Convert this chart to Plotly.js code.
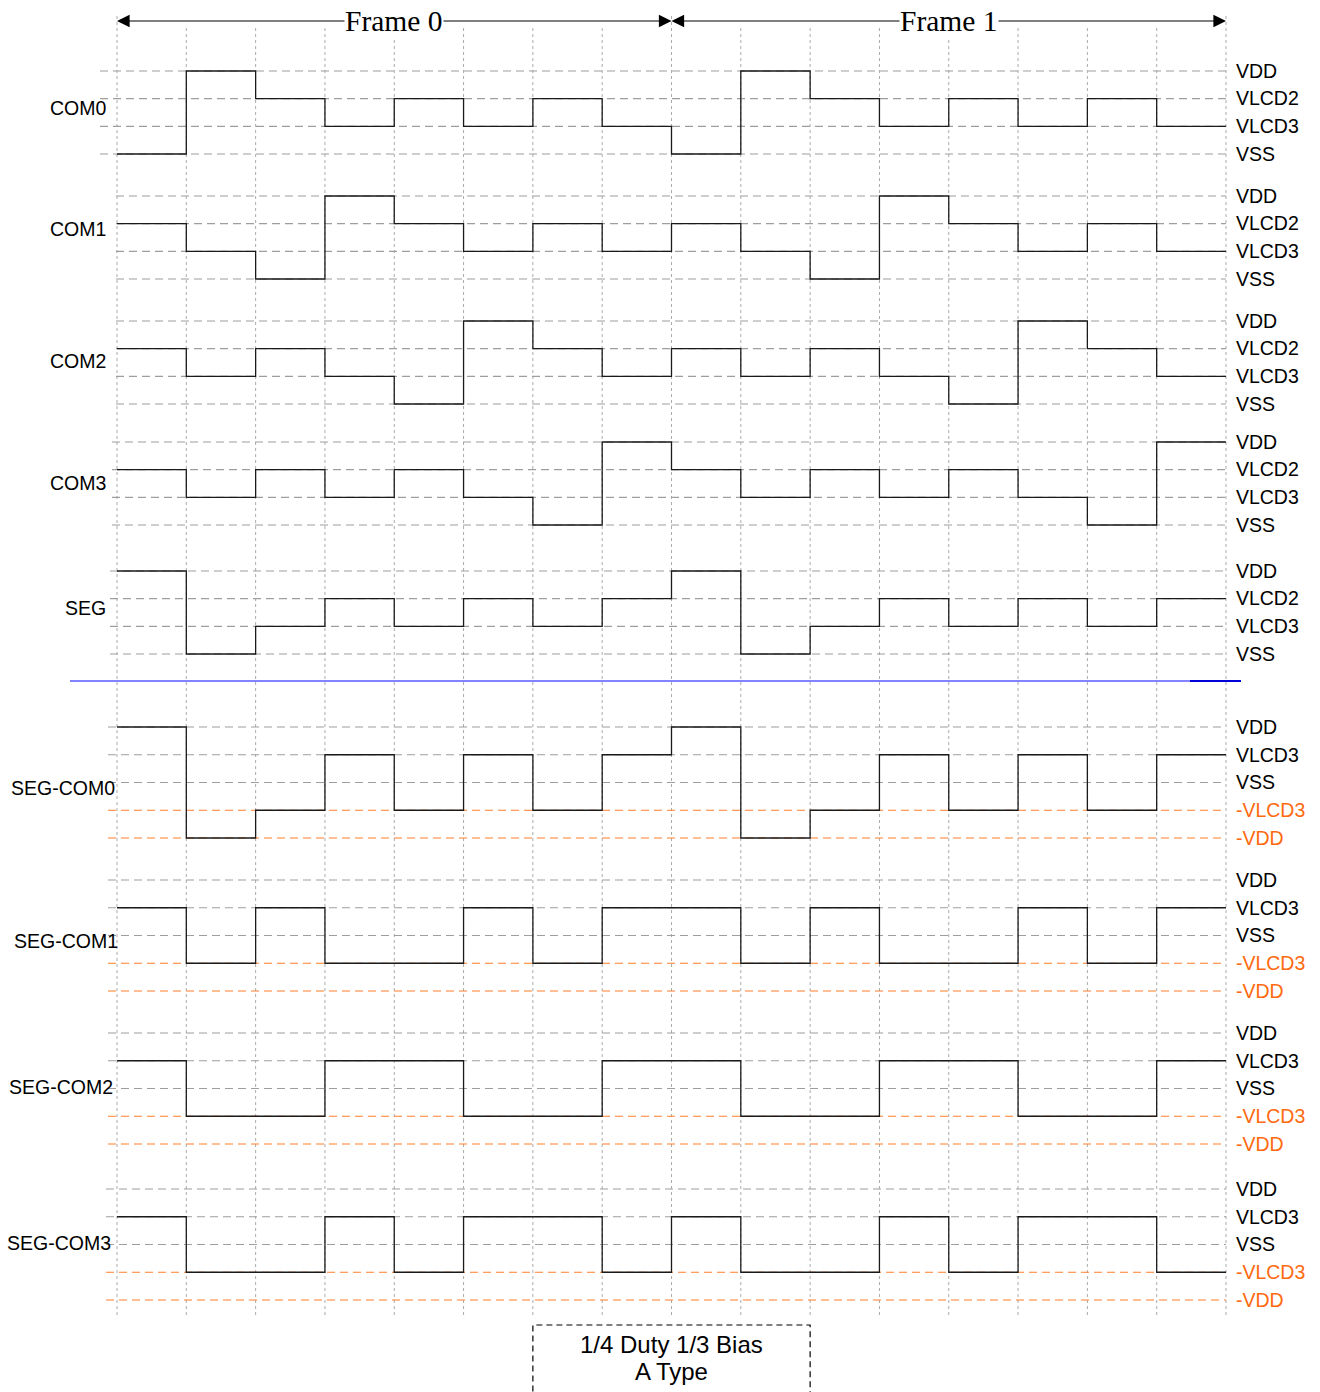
<!DOCTYPE html>
<html>
<head>
<meta charset="utf-8">
<script src="https://cdn.plot.ly/plotly-3.0.1.min.js"></script>
<style>
  html, body { margin: 0; padding: 0; background: #ffffff; }
  #chart { width: 1320px; height: 1392px; }
</style>
</head>
<body>
<div id="chart"></div>
<script>
// ---------------- DATA ----------------
// time-slot boundaries (16 COM slots, two frames of 8)
const timeSlots = [0, 1, 2, 3, 4, 5, 6, 7, 8, 9, 10, 11, 12, 13, 14, 15, 16];
const frameNames = ['Frame 0', 'Frame 1'];
const frameBounds = [[0, 8], [8, 16]];

// voltage level names (bottom -> top)
const comLevels = ['VSS', 'VLCD3', 'VLCD2', 'VDD'];
const diffLevels = ['-VDD', '-VLCD3', 'VSS', 'VLCD3', 'VDD'];

const rowNames = ['COM0', 'COM1', 'COM2', 'COM3', 'SEG', 'SEG-COM0', 'SEG-COM1', 'SEG-COM2', 'SEG-COM3'];

const com0 = ['VSS','VDD','VLCD2','VLCD3','VLCD2','VLCD3','VLCD2','VLCD3','VSS','VDD','VLCD2','VLCD3','VLCD2','VLCD3','VLCD2','VLCD3'];
const com1 = ['VLCD2','VLCD3','VSS','VDD','VLCD2','VLCD3','VLCD2','VLCD3','VLCD2','VLCD3','VSS','VDD','VLCD2','VLCD3','VLCD2','VLCD3'];
const com2 = ['VLCD2','VLCD3','VLCD2','VLCD3','VSS','VDD','VLCD2','VLCD3','VLCD2','VLCD3','VLCD2','VLCD3','VSS','VDD','VLCD2','VLCD3'];
const com3 = ['VLCD2','VLCD3','VLCD2','VLCD3','VLCD2','VLCD3','VSS','VDD','VLCD2','VLCD3','VLCD2','VLCD3','VLCD2','VLCD3','VSS','VDD'];
const seg  = ['VDD','VSS','VLCD3','VLCD2','VLCD3','VLCD2','VLCD3','VLCD2','VDD','VSS','VLCD3','VLCD2','VLCD3','VLCD2','VLCD3','VLCD2'];
const segCom0 = ['VDD','-VDD','-VLCD3','VLCD3','-VLCD3','VLCD3','-VLCD3','VLCD3','VDD','-VDD','-VLCD3','VLCD3','-VLCD3','VLCD3','-VLCD3','VLCD3'];
const segCom1 = ['VLCD3','-VLCD3','VLCD3','-VLCD3','-VLCD3','VLCD3','-VLCD3','VLCD3','VLCD3','-VLCD3','VLCD3','-VLCD3','-VLCD3','VLCD3','-VLCD3','VLCD3'];
const segCom2 = ['VLCD3','-VLCD3','-VLCD3','VLCD3','VLCD3','-VLCD3','-VLCD3','VLCD3','VLCD3','-VLCD3','-VLCD3','VLCD3','VLCD3','-VLCD3','-VLCD3','VLCD3'];
const segCom3 = ['VLCD3','-VLCD3','-VLCD3','VLCD3','-VLCD3','VLCD3','VLCD3','-VLCD3','VLCD3','-VLCD3','-VLCD3','VLCD3','-VLCD3','VLCD3','VLCD3','-VLCD3'];

const noteLines = ['1/4 Duty 1/3 Bias', 'A Type'];

// ---------------- LAYOUT / STYLE ----------------
const W = 1320, H = 1392;
const X0PX = 117, SLOTPX = 69.3125;
function tx(px) { return (px - X0PX) / SLOTPX; }
function py(px) { return 1 - px / H; }

const SANS = 'Liberation Sans, Arial, sans-serif';
const SERIF = 'Liberation Serif, Times New Roman, serif';
const GRAY = '#9e9e9e';
const ORANGE_LINE = '#ff7f2a';
const ORANGE_TEXT = '#ff6a10';

const series = [com0, com1, com2, com3, seg, segCom0, segCom1, segCom2, segCom3];
const rowLevels = [comLevels, comLevels, comLevels, comLevels, comLevels, diffLevels, diffLevels, diffLevels, diffLevels];
const rowGeom = [
  {top: 71,   bot: 154,  labelY: 108,  labelR: 108, refLeft: 100},
  {top: 196,  bot: 279,  labelY: 229,  labelR: 108, refLeft: 116},
  {top: 321,  bot: 404,  labelY: 361,  labelR: 108, refLeft: 116},
  {top: 442,  bot: 525,  labelY: 483,  labelR: 108, refLeft: 112},
  {top: 571,  bot: 654,  labelY: 608,  labelR: 108, refLeft: 110},
  {top: 727,  bot: 838,  labelY: 788,  labelR: 117, refLeft: 108},
  {top: 880,  bot: 991,  labelY: 941,  labelR: 120, refLeft: 108},
  {top: 1033, bot: 1144, labelY: 1087, labelR: 115, refLeft: 108},
  {top: 1189, bot: 1300, labelY: 1243, labelR: 113, refLeft: 106}
];

const traces = [];
const layout = {
  width: W, height: H,
  margin: {l: 0, r: 0, t: 0, b: 0, pad: 0},
  paper_bgcolor: '#ffffff',
  plot_bgcolor: 'rgba(0,0,0,0)',
  showlegend: false,
  hovermode: false,
  font: {family: SANS, size: 19.5, color: '#000'},
  xaxis: {
    domain: [0, 1], range: [tx(0), tx(W)], anchor: 'y',
    visible: false, showgrid: false, zeroline: false, fixedrange: true
  },
  shapes: [],
  annotations: []
};

const lastT = timeSlots[timeSlots.length - 1];

rowNames.forEach((name, i) => {
  const yid = i === 0 ? 'y' : 'y' + (i + 1);
  const key = i === 0 ? 'yaxis' : 'yaxis' + (i + 1);
  const levels = rowLevels[i];
  const g = rowGeom[i];
  const n = levels.length;
  const unit = (g.bot - g.top) / (n - 1);
  layout[key] = {
    type: 'category',
    categoryorder: 'array',
    categoryarray: levels,
    range: [-0.5, n - 0.5],
    domain: [py(g.bot + unit / 2), py(g.top - unit / 2)],
    anchor: 'free',
    position: X0PX / W + (lastT * SLOTPX) / W,
    side: 'right',
    showgrid: false, zeroline: false, showline: false,
    ticks: 'outside', ticklen: 5, tickcolor: 'rgba(0,0,0,0)',
    tickmode: 'array',
    tickvals: levels,
    ticktext: levels.map(l => l.startsWith('-') ? '<span style="color:' + ORANGE_TEXT + '">' + l + '</span>' : l),
    tickfont: {family: SANS, size: 19.5, color: '#000'},
    fixedrange: true
  };
  // dashed reference levels
  levels.forEach(l => {
    traces.push({
      x: [tx(g.refLeft), lastT], y: [l, l],
      xaxis: 'x', yaxis: yid, mode: 'lines', hoverinfo: 'skip',
      line: {color: l.startsWith('-') ? ORANGE_LINE : GRAY, width: 1.2, dash: '8px,5px'}
    });
  });
  // waveform
  const vals = series[i];
  traces.push({
    x: timeSlots, y: vals.concat([vals[vals.length - 1]]),
    xaxis: 'x', yaxis: yid, mode: 'lines', hoverinfo: 'skip',
    line: {color: '#1a1a1a', width: 1.3, shape: 'hv'}
  });
  // row label
  layout.annotations.push({
    xref: 'paper', yref: 'paper', x: g.labelR / W, y: py(g.labelY),
    xanchor: 'right', yanchor: 'middle', showarrow: false,
    text: name, font: {family: SANS, size: 19.5, color: '#000'}
  });
});

// vertical dotted slot boundaries
timeSlots.forEach(t => {
  const isFrame = frameBounds.some(b => b[0] === t || b[1] === t);
  layout.shapes.push({
    type: 'line', layer: 'below', xref: 'x', yref: 'paper',
    x0: t, x1: t, y0: py(1315), y1: py(isFrame ? 14 : 25),
    line: {color: '#ababab', width: 1, dash: 'dot'}
  });
});

// blue separator
layout.shapes.push({
  type: 'line', xref: 'x', yref: 'paper',
  x0: tx(70), x1: tx(1241), y0: py(681), y1: py(681),
  line: {color: '#5a5aff', width: 1.3}
});
layout.shapes.push({
  type: 'line', xref: 'x', yref: 'paper',
  x0: tx(1190), x1: tx(1241), y0: py(681), y1: py(681),
  line: {color: '#0000dd', width: 1.8}
});

// frame arrows
frameNames.forEach((fname, k) => {
  const [a, b] = frameBounds[k];
  const mid = (a + b) / 2;
  [a, b].forEach(end => {
    layout.annotations.push({
      xref: 'x', yref: 'paper', x: end, y: py(21),
      axref: 'x', ayref: 'pixel', ax: mid, ay: 0,
      text: '', showarrow: true, arrowhead: 2, arrowsize: 2.1, arrowwidth: 1.2,
      arrowcolor: '#000', standoff: 0
    });
  });
  layout.annotations.push({
    xref: 'x', yref: 'paper', x: mid, y: py(21),
    xanchor: 'center', yanchor: 'middle', showarrow: false,
    text: fname, bgcolor: '#ffffff', borderpad: 0,
    font: {family: SERIF, size: 29.5, color: '#000'}
  });
});

// note box
layout.shapes.push({
  type: 'rect', xref: 'x', yref: 'paper',
  x0: 6, x1: 10, y0: py(1400), y1: py(1325),
  line: {color: '#000', width: 1.2, dash: '6px,4px'},
  fillcolor: 'rgba(0,0,0,0)'
});
layout.annotations.push({
  xref: 'x', yref: 'paper', x: 8, y: py(1344), xanchor: 'center', yanchor: 'middle',
  showarrow: false, text: noteLines[0], font: {family: SANS, size: 24, color: '#000'}
});
layout.annotations.push({
  xref: 'x', yref: 'paper', x: 8, y: py(1371), xanchor: 'center', yanchor: 'middle',
  showarrow: false, text: noteLines[1], font: {family: SANS, size: 24, color: '#000'}
});

Plotly.newPlot('chart', traces, layout, {staticPlot: true, displayModeBar: false});
</script>
</body>
</html>
